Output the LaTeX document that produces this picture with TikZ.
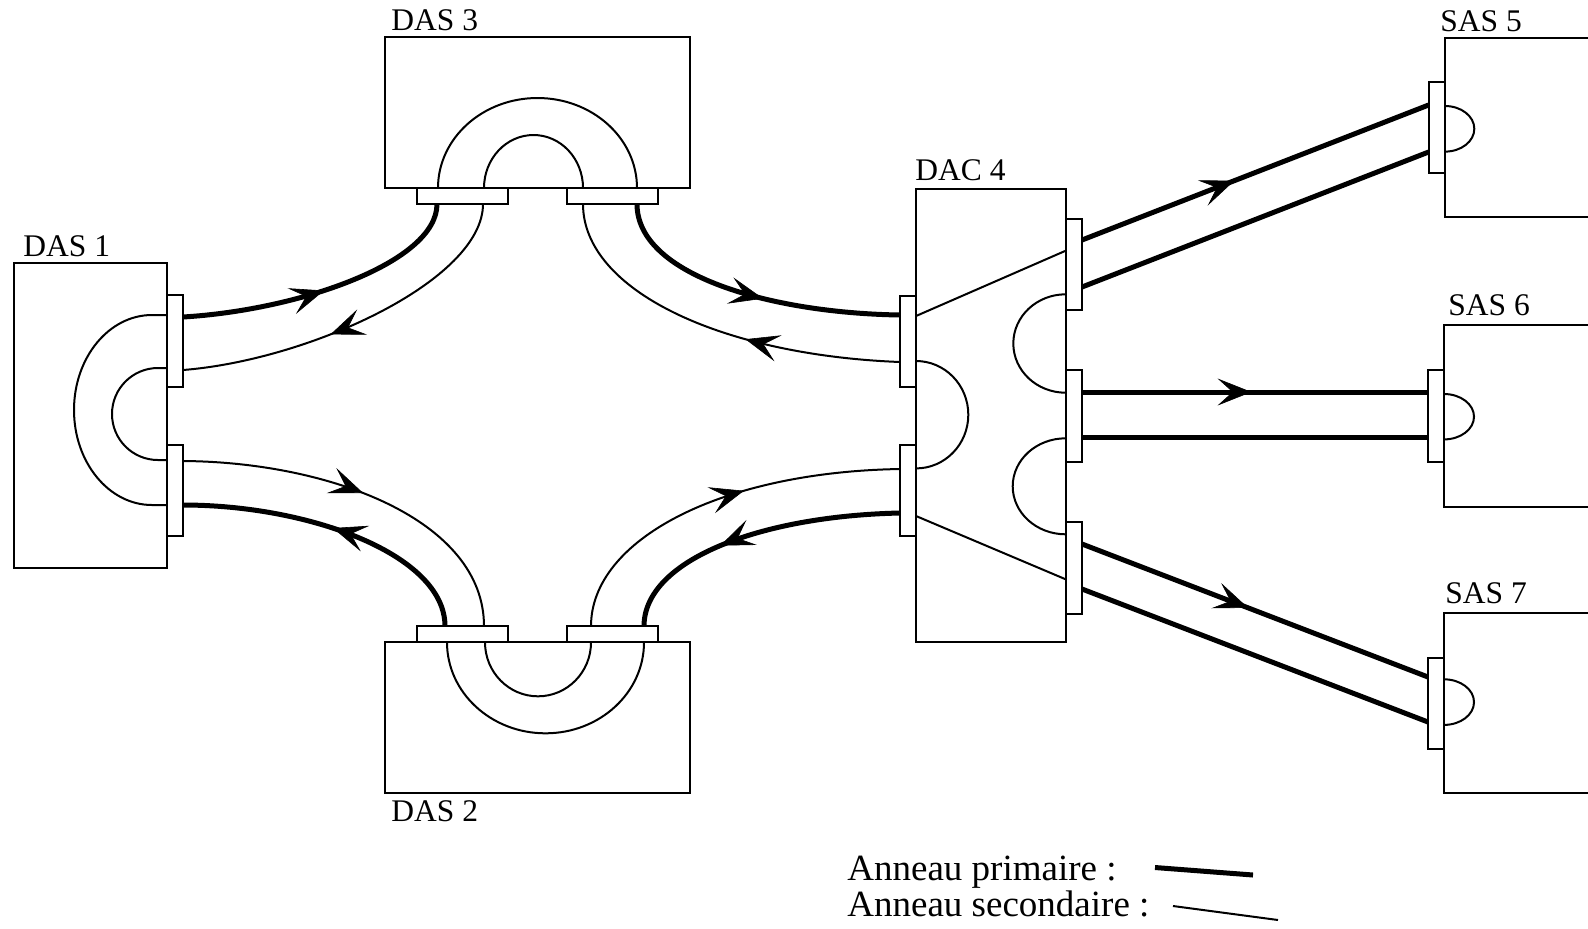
\documentclass[tikz,border=0pt]{standalone}
\usepackage{fontspec}
\setmainfont{Liberation Serif}
\usetikzlibrary{arrows.meta,decorations.markings}
\begin{document}
\begin{tikzpicture}[x=0.5pt,y=-0.5pt,
  boxunit/.style={draw, line width=1pt, fill=white, inner sep=0pt, outer sep=0pt},
  portv/.style={boxunit, minimum width=8pt, minimum height=45.6pt},
  porth/.style={boxunit, minimum width=45.8pt, minimum height=8pt},
  lbl/.style={anchor=base west, inner sep=0pt, font=\fontsize{15.75pt}{18pt}\selectfont},
  lgd/.style={anchor=base west, inner sep=0pt, font=\fontsize{18.5pt}{22pt}\selectfont},
  ringA/.style={line width=2.5pt},
  ringB/.style={line width=1pt},
  uturn/.style={line width=1pt},
  flowarrow/.style={postaction={decorate}, decoration={markings,
    mark=at position #1 with {\arrow{Stealth[length=17pt,width=13.5pt,inset=7.5pt,line width=0.3pt]}}}}
]
\useasboundingbox (0,0) rectangle (1588,928);
\clip (0,0) rectangle (1588,928);

% stations
\node[boxunit, minimum width=76.5pt, minimum height=152.5pt] (das1) at (90.5,415.5) {};
\node[boxunit, minimum width=152.5pt, minimum height=75.35pt] (das3) at (537.5,112.65) {};
\node[boxunit, minimum width=152.5pt, minimum height=75.5pt] (das2) at (537.5,717.8) {};
\node[boxunit, minimum width=74.85pt, minimum height=226.5pt] (dac4) at (990.85,415.8) {};
\node[boxunit, minimum width=87.5pt, minimum height=89.2pt] (sas5) at (1532.5,127.5) {};
\node[boxunit, minimum width=87.5pt, minimum height=90.85pt] (sas6) at (1531.5,415.85) {};
\node[boxunit, minimum width=87.5pt, minimum height=90.3pt] (sas7) at (1531.5,703) {};

% station names
\node[lbl] (t1) at (23,256.5) {DAS 1};
\node[lbl] (t3) at (391,30.5) {DAS 3};
\node[lbl] (t2) at (391,821) {DAS 2};
\node[lbl] (t4) at (915,180) {DAC 4};
\node[lbl] (t5) at (1440,31.5) {SAS 5};
\node[lbl] (t6) at (1448,315) {SAS 6};
\node[lbl] (t7) at (1445,603) {SAS 7};

% internal loops
\draw[uturn] (das1.east |- 0,315) -- (152,315) arc[start angle=-90, end angle=-270, x radius=78, y radius=95] -- (das1.east |- 0,505);
\draw[uturn] (das1.east |- 0,368) -- (158,368) arc[start angle=-90, end angle=-270, x radius=46, y radius=46] -- (das1.east |- 0,460);
\draw[uturn] (das3.south -| 438,0) arc[start angle=180, end angle=360, x radius=99.5, y radius=90];
\draw[uturn] (das3.south -| 484,0) arc[start angle=180, end angle=360, x radius=49.5, y radius=53];
\draw[uturn] (das2.north -| 447,0) arc[start angle=180, end angle=0, x radius=98.5, y radius=91];
\draw[uturn] (das2.north -| 485,0) arc[start angle=180, end angle=0, x radius=53, y radius=54];
\draw[uturn] (dac4.west |- 0,361) arc[start angle=-90, end angle=90, x radius=52.3, y radius=53.7];
\draw[uturn] (dac4.east |- 0,294.3) arc[start angle=-90, end angle=-270, x radius=52.4, y radius=49.2];
\draw[uturn] (dac4.east |- 0,438.3) arc[start angle=-90, end angle=-270, x radius=53, y radius=48];
\draw[uturn] (dac4.west |- 0,316) -- (dac4.east |- 0,250.7);
\draw[uturn] (dac4.west |- 0,516) -- (dac4.east |- 0,579.3);
\draw[uturn] (sas5.west |- 0,106) arc[start angle=-90, end angle=90, x radius=29.3, y radius=22.8];
\draw[uturn] (sas6.west |- 0,394) arc[start angle=-90, end angle=90, x radius=30, y radius=22.7];
\draw[uturn] (sas7.west |- 0,679.3) arc[start angle=-90, end angle=90, x radius=30, y radius=22.8];

% attachment ports
\node[portv] (d1pa) at (175,341) {};
\node[portv] (d1pb) at (175,490.5) {};
\node[porth] (d3pl) at (462.5,196) {};
\node[porth] (d3pr) at (612.5,196) {};
\node[porth] (d2pl) at (462.5,634.2) {};
\node[porth] (d2pr) at (612.5,634.2) {};
\node[portv] (d4la) at (908,341.2) {};
\node[portv] (d4lb) at (908,490.5) {};
\node[portv] (d4ra) at (1074,264.2) {};
\node[portv] (d4rb) at (1074,415.9) {};
\node[portv] (d4rc) at (1074,568) {};
\node[portv] (s5p) at (1436.6,127.5) {};
\node[portv] (s6p) at (1436,415.9) {};
\node[portv] (s7p) at (1436,703.8) {};

% primary ring
\draw[ringA, flowarrow=0.49] (d1pa.east |- 0,317) .. controls (300,310) and (437,262) .. (d3pl.south -| 437,0);
\draw[ringA, flowarrow=0.55] (d3pr.south -| 637,0) .. controls (637,275) and (770,313) .. (d4la.west |- 0,315);
\draw[ringA, flowarrow=0.61] (d4lb.west |- 0,513) .. controls (760,516) and (644,560) .. (d2pr.north -| 644,0);
\draw[ringA, flowarrow=0.51] (d2pl.north -| 445,0) .. controls (445,555) and (310,505) .. (d1pb.east |- 0,505);

% secondary ring
\draw[ringB, flowarrow=0.58] (d3pl.south -| 483,0) .. controls (483,280) and (310,360) .. (d1pa.east |- 0,370);
\draw[ringB, flowarrow=0.41] (d4la.west |- 0,362) .. controls (720,355) and (583,290) .. (d3pr.south -| 583,0);
\draw[ringB, flowarrow=0.58] (d2pr.north -| 591,0) .. controls (591,540) and (720,472) .. (d4lb.west |- 0,469);
\draw[ringB, flowarrow=0.49] (d1pb.east |- 0,461) .. controls (330,462) and (484,520) .. (d2pl.north -| 484,0);

% single attachment links
\draw[ringA, flowarrow=0.44] (d4ra.east |- 0,240) -- (s5p.west |- 0,105);
\draw[ringA] (d4ra.east |- 0,287) -- (s5p.west |- 0,152);
\draw[ringA, flowarrow=0.49] (d4rb.east |- 0,392) -- (s6p.west |- 0,392);
\draw[ringA] (d4rb.east |- 0,437.5) -- (s6p.west |- 0,437.5);
\draw[ringA, flowarrow=0.48] (d4rc.east |- 0,544) -- (s7p.west |- 0,677);
\draw[ringA] (d4rc.east |- 0,589) -- (s7p.west |- 0,722);

% legend
\node[lgd] (lg1) at (847,880) {Anneau primaire :};
\node[lgd] (lg2) at (847,916.5) {Anneau secondaire :};
\coordinate (lga) at (1155,867.5);
\coordinate (lgb) at (1253,875);
\coordinate (lgc) at (1173,906);
\coordinate (lgd) at (1278,920);
\draw[ringA] (lga) -- (lgb);
\draw[ringB] (lgc) -- (lgd);
\end{tikzpicture}
\end{document}
